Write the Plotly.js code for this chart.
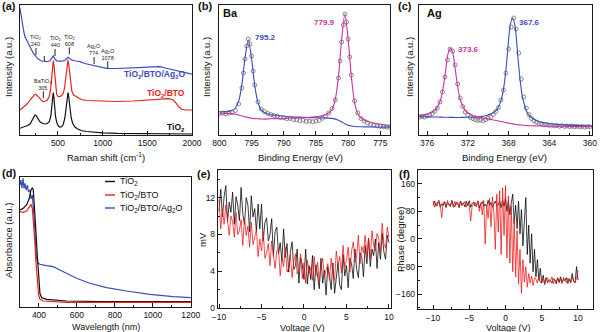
<!DOCTYPE html>
<html><head><meta charset="utf-8">
<script src="https://cdn.plot.ly/plotly-3.0.1.min.js"></script>
<style>html,body{margin:0;padding:0;background:#fff}#chart{width:600px;height:332px}</style>
</head><body><div id="chart"></div>
<script>
// ---------- (a) Raman spectra ----------
const ramanTiO2X = [75,100,131,160,187,215,230,243,255,270,299,330,355,380,403,420,432,440,447,454,462,472,485,500,520,542,560,575,590,600,606,612,618,626,636,648,665,690,720,760,820,900,1000,1160,1400,1600,1800,2000];
const ramanTiO2Y = [6.7,7.5,8.3,9.5,11,15,18.5,20,19.5,17,13.3,11.5,11,11.5,13.3,19,28,37,42.5,38,28,19,13,9.5,8,8.3,11,16,26,35,40,42.5,40,32,24,17,11.5,8,6,4.5,3.5,2.7,2.2,1.7,1.4,1.2,1.1,1];
const ramanBTOX = [75,100,131,160,187,215,240,255,270,299,330,360,380,400,415,428,438,447,455,463,472,485,500,522,540,560,575,590,602,612,620,630,640,655,675,702,760,821,971,1158,1344,1568,1700,1736,1780,1811,1850,1886,1930,2000];
const ramanBTOY = [25,27,29,31.5,35,38.5,40.5,40.7,39,35.7,33.3,34,35,38,44,55,66,74.5,70,60,48,41,38.5,38.3,39.5,41.7,48,61.7,71,75,71,62,52,44,40,38.3,35.5,34.5,34,33.5,34,35,36,36.3,35.5,33,28.5,25.7,25,25];
const ramanAgX = [75,86,95,105,118,131,150,168,187,206,225,243,255,268,280,318,374,411,430,448,465,486,520,560,590,612,630,653,700,747,800,850,896,950,1046,1150,1270,1350,1456,1550,1643,1700,1792,1880,1979,2000];
const ramanAgY = [126.7,120,114,108.3,103,98.3,94.5,91.7,88,85,81.5,79.5,79,77.5,75.7,74,73.3,74.3,76.5,79,76,74,73.8,74,75.5,77.7,76.5,75,74,73.3,71.5,70.5,69,68,66.7,66.5,66.7,67.2,67.7,68.2,68.3,67,65,63,61,60.8];
const ramanPeakX = [254,467,627,904,1057,336];
const ramanPeakY = [80,79,80.7,71,66.7,36.7];
const ramanPeakText = ['TiO<sub>2</sub><br>240','TiO<sub>2</sub><br>440','TiO<sub>2</sub><br>608','Ag<sub>2</sub>O<br>774','Ag<sub>2</sub>O<br>1078','BaTiO<sub>3</sub><br>305'];

// ---------- (b) Ba XPS ----------
const baE = [800,799.5,799,798.5,798,797.5,797,796.5,796.25,796,795.75,795.5,795.25,795,794.75,794.5,794,793.5,793,792.5,792,791.5,791,790.5,790,789.5,789,788.5,788,787.5,787,786.5,786,785.5,785,784.5,784,783.5,783,782.5,782,781.5,781.25,781,780.75,780.5,780.25,780,779.75,779.5,779,778.5,778,777.5,777,776.5,776,775.5,775,774.5,774,773.5];
const baI = [21.5,21.9,21.2,21.8,22.4,24.5,31,47,62,76,89,96,91,79,64,50,33,26,23.5,21.6,20.5,19.4,18.8,17.6,17.3,16.2,16.6,15.4,15.1,14.3,14.8,13.6,13.9,13.2,14,14.6,16.8,18.5,22,26.5,35,57,74,93,110,121,113,96,78,60,34,22,16.5,13.8,12.2,10.5,9.8,9.1,8.6,8.2,7.9,7.6];
const baFitE = [800,799,798,797.5,797,796.5,796,795.5,795,794.5,794,793.5,793,792,790,788,786,784,783,782.5,782,781.5,781,780.5,780,779.5,779,778.5,778,777,775,773.5];
const baFit3d3 = [23.0,23.4,24.7,27.0,33.8,50.2,77.5,95.3,77.1,49.3,32.4,25.1,22.4,20.2,18.7,17.9,17.4,17.1,16.9,16.6,15.9,14.8,13.1,11.3,9.8,9.0,8.5,8.3,8.2,8.1,7.9,7.9];
const baFit3d5 = [21,21.5,21.5,20.8,20,19,18.3,17.5,16.8,16.4,16.2,16,15.9,16.3,16.5,17,17.7,19.3,22.2,25.8,35.5,58.5,96,121,96,58,32.5,21.2,17,13.5,10.8,9.8];

// ---------- (c) Ag XPS ----------
const agE = [376.75,376.5,376.25,376,375.75,375.5,375.25,375,374.75,374.5,374.25,374,373.75,373.5,373.25,373,372.75,372.5,372.25,372,371.75,371.5,371.25,371,370.75,370.5,370.25,370,369.75,369.5,369.25,369,368.75,368.5,368.25,368,367.75,367.5,367.25,367,366.75,366.5,366.25,366,365.75,365.5,365.25,365,364.75,364.5,364.25,364,363.75,363.5,363.25,363,362.75,362.5,362.25,362,361.75,361.5,361.25,361,360.75,360.5,360.25,360];
const agI = [18.0,18.6,17.9,19.2,20.1,21.4,23.8,27,33,43,58,75,86,84,70,51,37,28.5,23,20,17.5,16.4,15.2,14.6,14.9,14.1,15.3,16.8,17.9,20.5,23.5,27.5,35,45,62,86,108,117,106,82,56,38,27,20.5,16.5,14.2,12.8,11.6,11.1,10.2,10.5,9.6,9.9,9.2,9.5,8.8,9.3,8.6,9.0,8.4,8.9,8.3,8.7,8.1,8.6,8.0,8.5,8.2];
const agFitE = [376.8,376.2,375.7,375.2,374.7,374.45,374.2,373.95,373.7,373.45,373.2,372.95,372.7,372.2,371.7,371.2,370.6,370.1,369.6,369.1,368.6,368.35,368.1,367.85,367.6,367.35,367.1,366.85,366.6,366.1,365.6,365.1,364.5,363.5,362.5,361.5,360.5,359.8];
const agFit3d5 = [19.2,20.4,22.0,24.9,34.5,45.6,63,81.1,86.6,80.9,62.6,45,33.7,23.7,20.5,18.6,17.1,16.2,15.2,14.2,13.2,12.7,12.1,11.6,11.1,10.7,10.4,10,9.8,9.4,9.2,9,8.9,8.7,8.7,8.5,8.5,8.4];
const agFit3d3 = [18.2,18.2,18.1,18,17.9,17.8,17.8,17.7,17.6,17.6,17.5,17.5,17.6,17.7,17.8,17.9,18.6,19.8,21.7,25.9,40.2,56.6,82.4,109.2,117,108.1,80.3,53.6,36.5,21.1,16.3,13.8,12.2,10.7,10.1,9.6,9.2,9];

// ---------- (d) UV-vis absorbance ----------
const absTiO2X = [300,317,335,349,358,365,370,375,382,391,398,405,414,440,546,721,1200];
const absTiO2Y = [97,98.7,102,108.7,117,119.3,117,105.3,82,52,28.7,13.7,9.3,7.7,6,5.3,5.3];
const absBTOX = [300,317,335,349,358,365,370,377,384,391,398,405,423,546,1200];
const absBTOY = [95.3,94.7,96,100.3,102.7,98.7,88.7,68.7,45.3,25.3,12,7.7,6,4.7,4.7];
const absAgX = [300,305,310,316,321,326,332,339,344,353,358,365,372,379,386,394,405,440,475,510,546,598,668,756,861,984,1107,1200];
const absAgY = [122,127,118.7,128.7,118.7,123.7,117,122,115.3,117,108,112,95,68,50,44,42.7,41.3,40.3,37,33.7,28.7,23.7,19.3,16,12.7,10.3,9.3];
const legendNames = ['TiO<sub>2</sub>','TiO<sub>2</sub>/BTO','TiO<sub>2</sub>/BTO/Ag<sub>2</sub>O'];

// ---------- (e) amplitude / (f) phase vs voltage ----------
const voltage = [-10,-9.8,-9.6,-9.4,-9.2,-9,-8.8,-8.6,-8.4,-8.2,-8,-7.8,-7.6,-7.4,-7.2,-7,-6.8,-6.6,-6.4,-6.2,-6,-5.8,-5.6,-5.4,-5.2,-5,-4.8,-4.6,-4.4,-4.2,-4,-3.8,-3.6,-3.4,-3.2,-3,-2.8,-2.6,-2.4,-2.2,-2,-1.8,-1.6,-1.4,-1.2,-1,-0.8,-0.6,-0.4,-0.2,0,0.2,0.4,0.6,0.8,1,1.2,1.4,1.6,1.8,2,2.2,2.4,2.6,2.8,3,3.2,3.4,3.6,3.8,4,4.2,4.4,4.6,4.8,5,5.2,5.4,5.6,5.8,6,6.2,6.4,6.6,6.8,7,7.2,7.4,7.6,7.8,8,8.2,8.4,8.6,8.8,9,9.2,9.4,9.6,9.8,10];
const ampTiO2 = [10.5,12.9,9.9,12.1,13.3,9.4,11.5,10.4,12.6,9.1,12.1,11.2,9.5,13.1,10.2,9.1,12.0,11.2,8.3,12.2,9.9,10.8,8.3,11.3,8.6,11.3,7.3,9.3,9.8,7.3,8.0,9.7,5.6,8.3,8.8,5.9,7.1,5.1,8.6,5.5,7.0,3.9,6.1,7.2,4.2,4.6,6.4,2.7,5.5,4.7,3.1,6.4,2.6,4.6,3.1,5.7,2.0,4.7,3.5,2.1,5.4,2.7,4.1,1.4,4.5,3.5,2.0,4.9,1.6,3.5,4.9,2.5,2.0,5.8,3.5,4.6,2.2,5.4,4.8,3.2,6.4,4.2,3.3,6.0,5.5,3.4,6.8,4.8,7.6,4.5,6.4,5.7,7.5,4.3,7.1,5.3,8.1,6.1,5.3,7.9,7.1];
const ampBTO = [11.8,8.6,10.7,9.1,11.2,9.1,7.9,10.0,9.4,7.7,10.4,8.0,8.4,9.6,6.8,9.7,7.9,8.9,6.6,9.3,6.9,7.7,8.5,5.6,7.5,6.2,8.3,5.4,6.0,7.0,4.6,7.3,5.6,4.3,6.2,6.5,3.5,5.4,4.5,6.6,3.9,4.4,5.8,3.3,5.1,5.9,3.7,4.2,5.9,3.2,4.9,2.7,5.2,3.8,4.4,3.0,5.6,3.5,5.0,2.8,4.5,5.4,3.4,4.2,4.8,3.0,5.4,3.8,3.0,6.2,4.6,5.6,3.8,6.8,4.4,5.2,6.6,3.9,6.2,7.2,5.0,5.6,7.9,4.8,6.7,6.0,7.9,5.5,7.6,5.3,8.4,6.8,6.2,8.1,7.5,6.0,9.2,7.0,6.5,8.8,7.7];
const phaseTiO2 = [98,110,95,105,111,92,102,97,108,91,106,102,94,112,98,93,107,104,91,110,99,105,93,109,96,111,92,103,107,95,100,109,90,104,108,94,101,93,112,97,106,92,103,110,96,99,110,91,112,95,118,80,112,70,105,130,45,98,30,110,15,85,-20,70,120,-45,40,-70,15,-95,-30,-110,-60,-120,-85,-128,-105,-132,-112,-126,-118,-122,-128,-115,-118,-130,-113,-124,-110,-126,-117,-121,-112,-129,-115,-125,-100,-122,-127,-80,-119];
const phaseBTO = [110,92,105,97,112,99,62,107,104,95,112,97,100,108,91,109,99,106,92,110,96,102,109,92,105,98,52,95,100,107,93,111,80,104,70,112,-15,98,60,118,35,122,75,-30,130,20,140,-45,148,10,155,-55,125,-70,95,-95,60,-110,25,-130,-30,-158,-60,-125,-80,-140,-100,-128,-108,-135,-112,-116,-128,-110,-126,-121,-113,-131,-117,-112,-126,-123,-110,-130,-118,-124,-112,-128,-115,-130,-111,-122,-126,-114,-119,-128,-109,-124,-127,-114,-90];

// ---------- styling ----------
const F = 'Liberation Sans, Arial, sans-serif';
const W = 600, H = 332;
const PX = v => v / W, PY = v => 1 - v / H;
const cBlack = '#111111', cRed = '#e8231b', cBlue = '#3b4cc0', cMag = '#cf2fa6', cGray = '#6e6e6e';

function ax(extra) {
  return Object.assign({
    showline: true, linecolor: '#1a1a1a', linewidth: 1.2, mirror: true,
    ticks: 'inside', ticklen: 4, tickwidth: 1, tickcolor: '#1a1a1a',
    tickfont: {family: F, size: 8.5, color: '#111'},
    zeroline: false, showgrid: false, fixedrange: true
  }, extra);
}
function mn(d) { return {dtick: d, ticks: 'inside', ticklen: 2, tickwidth: 1, tickcolor: '#1a1a1a', showgrid: false}; }
const noY = {ticks: '', showticklabels: false};

const traces = [
  {x: ramanTiO2X, y: ramanTiO2Y, xaxis: 'x', yaxis: 'y', mode: 'lines', line: {color: cBlack, width: 1.2}},
  {x: ramanBTOX, y: ramanBTOY, xaxis: 'x', yaxis: 'y', mode: 'lines', line: {color: cRed, width: 1.2}},
  {x: ramanAgX, y: ramanAgY, xaxis: 'x', yaxis: 'y', mode: 'lines', line: {color: cBlue, width: 1.2}},

  {x: baE, y: baI, xaxis: 'x2', yaxis: 'y2', mode: 'markers', marker: {symbol: 'circle-open', size: 4, color: cGray, line: {width: 0.8}}},
  {x: baFitE, y: baFit3d3, xaxis: 'x2', yaxis: 'y2', mode: 'lines', line: {color: cBlue, width: 1.1, shape: 'spline', smoothing: 0.7}},
  {x: baFitE, y: baFit3d5, xaxis: 'x2', yaxis: 'y2', mode: 'lines', line: {color: cMag, width: 1.1, shape: 'spline', smoothing: 0.7}},

  {x: agE, y: agI, xaxis: 'x3', yaxis: 'y3', mode: 'markers', marker: {symbol: 'circle-open', size: 4, color: cGray, line: {width: 0.8}}},
  {x: agFitE, y: agFit3d3, xaxis: 'x3', yaxis: 'y3', mode: 'lines', line: {color: cBlue, width: 1.1, shape: 'spline', smoothing: 0.7}},
  {x: agFitE, y: agFit3d5, xaxis: 'x3', yaxis: 'y3', mode: 'lines', line: {color: cMag, width: 1.1, shape: 'spline', smoothing: 0.7}},

  {x: absAgX, y: absAgY, xaxis: 'x4', yaxis: 'y4', mode: 'lines', line: {color: cBlue, width: 1.2}},
  {x: absTiO2X, y: absTiO2Y, xaxis: 'x4', yaxis: 'y4', mode: 'lines', line: {color: cBlack, width: 1.2}},
  {x: absBTOX, y: absBTOY, xaxis: 'x4', yaxis: 'y4', mode: 'lines', line: {color: cRed, width: 1.2}},

  {x: voltage, y: ampTiO2, xaxis: 'x5', yaxis: 'y5', mode: 'lines', line: {color: 'rgba(0,0,0,0.85)', width: 0.9}},
  {x: voltage, y: ampBTO, xaxis: 'x5', yaxis: 'y5', mode: 'lines', line: {color: 'rgba(240,20,20,0.85)', width: 0.9}},

  {x: voltage, y: phaseTiO2, xaxis: 'x6', yaxis: 'y6', mode: 'lines', line: {color: 'rgba(0,0,0,0.85)', width: 0.9}},
  {x: voltage, y: phaseBTO, xaxis: 'x6', yaxis: 'y6', mode: 'lines', line: {color: 'rgba(240,20,20,0.85)', width: 0.9}}
];

function pa(px, py, text, o) {
  return Object.assign({xref: 'paper', yref: 'paper', x: PX(px), y: PY(py), text: text, showarrow: false,
    xanchor: 'center', yanchor: 'middle', font: {family: F, size: 9.5, color: '#111'}}, o || {});
}
const big = {family: F, size: 11, color: '#111'};
const bottomTitle = {family: F, size: 9, color: '#111'};
const annotations = [
  pa(9, 6, '<b>(a)</b>', {font: big}),
  pa(205, 6, '<b>(b)</b>', {font: big}),
  pa(405, 6, '<b>(c)</b>', {font: big}),
  pa(9, 173, '<b>(d)</b>', {font: big}),
  pa(204, 174, '<b>(e)</b>', {font: big}),
  pa(404, 174, '<b>(f)</b>', {font: big}),

  pa(106, 157, 'Raman shift (cm<sup>-1</sup>)'),
  pa(8, 67, 'Intensity (a.u.)', {textangle: -90}),
  pa(300, 157, 'Binding Energy (eV)'),
  pa(206, 67, 'Intensity (a.u.)', {textangle: -90}),
  pa(504, 157, 'Binding Energy (eV)'),
  pa(409, 67, 'Intensity (a.u.)', {textangle: -90}),
  pa(106, 327, 'Wavelength (nm)', {font: bottomTitle, yanchor: 'middle'}),
  pa(8, 240, 'Absorbance (a.u.)', {textangle: -90}),
  pa(302, 327.5, 'Voltage (V)', {font: bottomTitle}),
  pa(202, 240, 'mV', {textangle: -90}),
  pa(508, 327.5, 'Voltage (V)', {font: bottomTitle}),
  pa(400, 240, 'Phase (degree)', {textangle: -90}),

  pa(187, 74, '<b>TiO<sub>2</sub>/BTO/Ag<sub>2</sub>O</b>', {xanchor: 'right', font: {family: F, size: 8.5, color: cBlue}}),
  pa(187, 94, '<b>TiO<sub>2</sub>/BTO</b>', {xanchor: 'right', font: {family: F, size: 8.5, color: cRed}}),
  pa(187, 127, '<b>TiO<sub>2</sub></b>', {xanchor: 'right', font: {family: F, size: 8.5, color: '#111'}}),

  pa(230, 12.5, '<b>Ba</b>', {font: big}),
  pa(434, 13, '<b>Ag</b>', {font: big}),
  pa(265, 38, '<b>795.2</b>', {font: {family: F, size: 8, color: cBlue}}),
  pa(324, 22, '<b>779.9</b>', {font: {family: F, size: 8, color: cMag}}),
  pa(468, 50, '<b>373.6</b>', {font: {family: F, size: 8, color: cMag}}),
  pa(529, 22, '<b>367.6</b>', {font: {family: F, size: 8, color: cBlue}}),

  pa(118, 181.5, legendNames[0], {xanchor: 'left', font: {family: F, size: 9, color: '#111'}}),
  pa(118, 195, legendNames[1], {xanchor: 'left', font: {family: F, size: 9, color: '#111'}}),
  pa(118, 208, legendNames[2], {xanchor: 'left', font: {family: F, size: 9, color: '#111'}})
];
ramanPeakX.forEach((xv, i) => {
  annotations.push({xref: 'x', yref: 'y', x: xv, y: ramanPeakY[i], text: ramanPeakText[i],
    showarrow: true, arrowhead: 0, arrowwidth: 1, arrowcolor: '#222', ax: 0, ay: -14, standoff: 0,
    font: {family: F, size: 5.5, color: '#222'}, borderpad: 0});
});

const shapes = [
  {type: 'line', xref: 'paper', yref: 'paper', x0: PX(105), x1: PX(115), y0: PY(181.5), y1: PY(181.5), line: {color: cBlack, width: 1.4}},
  {type: 'line', xref: 'paper', yref: 'paper', x0: PX(105), x1: PX(115), y0: PY(195), y1: PY(195), line: {color: cRed, width: 1.4}},
  {type: 'line', xref: 'paper', yref: 'paper', x0: PX(105), x1: PX(115), y0: PY(208), y1: PY(208), line: {color: cBlue, width: 1.4}},
  {type: 'line', xref: 'x', yref: 'y', x0: 347, x1: 347, y0: 74, y1: 79, line: {color: '#222', width: 1}}
];

const layout = {
  width: W, height: H, margin: {l: 0, r: 0, t: 0, b: 0},
  paper_bgcolor: '#fff', plot_bgcolor: '#fff', showlegend: false,
  font: {family: F, size: 9, color: '#111'},
  xaxis: ax({domain: [PX(20), PX(192)], range: [75, 2000], dtick: 500, tick0: 0, minor: mn(250), anchor: 'y'}),
  yaxis: ax(Object.assign({domain: [PY(135), PY(5)], range: [0, 130], anchor: 'x'}, noY)),
  xaxis2: ax({domain: [PX(219), PX(390)], range: [800.05, 773.5], dtick: 5, tick0: 0, minor: mn(2.5), anchor: 'y2'}),
  yaxis2: ax(Object.assign({domain: [PY(135), PY(5)], range: [0, 130], anchor: 'x2'}, noY)),
  xaxis3: ax({domain: [PX(419), PX(592)], range: [376.8, 359.8], dtick: 4, tick0: 0, minor: mn(2), anchor: 'y3'}),
  yaxis3: ax(Object.assign({domain: [PY(135), PY(5)], range: [0, 130], anchor: 'x3'}, noY)),
  xaxis4: ax({domain: [PX(20), PX(191)], range: [300, 1201], dtick: 200, tick0: 0, minor: mn(100), anchor: 'y4'}),
  yaxis4: ax(Object.assign({domain: [PY(307), PY(177)], range: [0, 130], anchor: 'x4'}, noY)),
  xaxis5: ax({domain: [PX(218), PX(391)], range: [-10.12, 10.24], dtick: 5, tick0: 0, minor: mn(2.5), anchor: 'y5', ticklabelstandoff: 1}),
  yaxis5: ax({domain: [PY(308), PY(170)], range: [0, 15], dtick: 4, tick0: 0, minor: mn(2), anchor: 'x5'}),
  xaxis6: ax({domain: [PX(418), PX(593)], range: [-12.07, 12.07], dtick: 5, tick0: 0, minor: mn(2.5), anchor: 'y6', ticklabelstandoff: 1}),
  yaxis6: ax({domain: [PY(309), PY(170)], range: [-203, 200], dtick: 80, tick0: 0, minor: mn(40), anchor: 'x6'}),
  annotations: annotations,
  shapes: shapes
};

Plotly.newPlot('chart', traces, layout, {displayModeBar: false, staticPlot: true});
</script></body></html>
